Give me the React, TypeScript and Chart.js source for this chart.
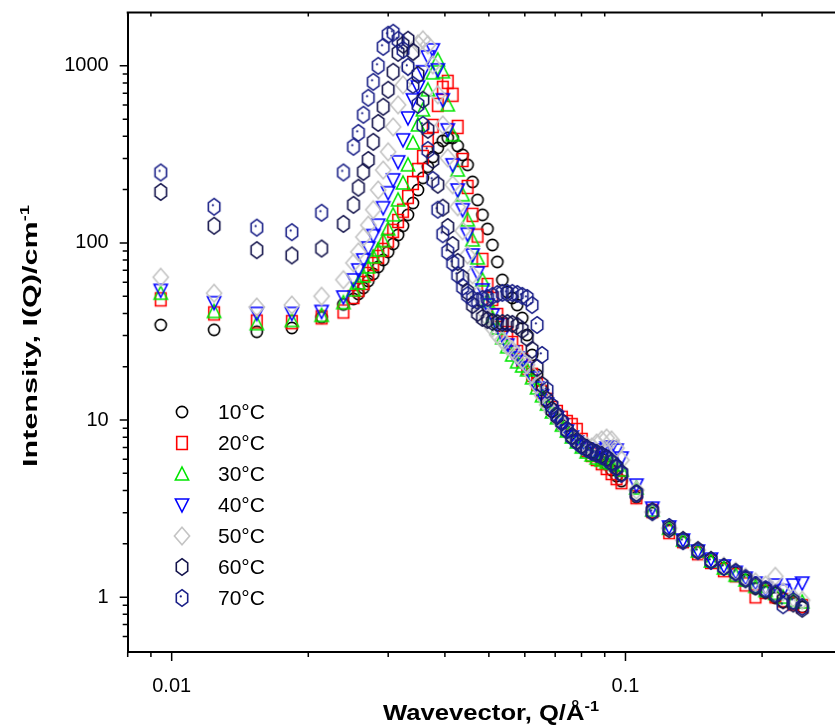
import React, { useEffect, useRef } from 'react';
import { Chart, registerables } from 'chart.js';

Chart.register(...registerables);

// ---------------- data ----------------
const Q = [
  0.00946, 0.0124, 0.0154, 0.0184, 0.0214, 0.0239,
  0.02515, 0.02579, 0.02645, 0.02712, 0.02781, 0.02852, 0.02925, 0.02999, 0.03076, 0.03154,
  0.03235, 0.03317, 0.03402, 0.03489, 0.03578, 0.03669, 0.03762, 0.03858, 0.03957, 0.04058,
  0.04161, 0.04267, 0.04376, 0.04488, 0.04602, 0.0472, 0.0484, 0.04964, 0.0509, 0.0522,
  0.05353, 0.0549, 0.0563, 0.05774, 0.05921, 0.06072, 0.06227, 0.06386, 0.06549, 0.06716,
  0.06887, 0.07063, 0.07243, 0.07428, 0.07617, 0.07812, 0.08011, 0.08215, 0.08425, 0.0864,
  0.0886, 0.09086, 0.09318, 0.09555, 0.09799,
  0.1057, 0.1146, 0.1248, 0.1339, 0.1444, 0.1543, 0.1647, 0.1749, 0.1839, 0.1934,
  0.2035, 0.2139, 0.2225, 0.2343, 0.2452,
];

const I_10C = [
  34.4, 32.3, 31.5, 33.1, 38.0, 45.0,
  48.3, 51.5, 55.7, 61.0, 66.8, 73.2, 80.2, 89.0, 98.7, 111,
  125, 144, 168, 199, 233, 269, 306, 344, 377, 392,
  392, 353, 314, 276, 221, 175, 144, 120, 97.4, 78.1,
  61.8, 52.9, 48.9, 44.6, 37.7, 30.2, 23.3, 18.0, 14.8, 12.6,
  11.1, 10.3, 9.36, 8.55, 7.92, 7.42, 7.04, 6.77, 6.51, 6.26,
  6.02, 5.64, 5.22, 4.83, 4.52,
  3.67, 2.98, 2.39, 2.04, 1.80, 1.58, 1.46, 1.37, 1.25, 1.12,
  1.07, 0.99, 0.94, 0.92, 0.88,
];

const I_20C = [
  48.0, 40.0, 36.0, 35.7, 38.0, 41.0,
  49.5, 54.3, 59.4, 66.8, 76.1, 83.4, 91.3, 103, 117, 133,
  152, 182, 218, 258, 306, 382, 458, 602, 751, 812,
  686, 452, 294, 207, 144, 110, 80.2, 57.9, 48.3, 39.2,
  34.4, 31.0, 27.2, 24.2, 21.8, 19.7, 18.0, 16.0, 14.4, 13.0,
  11.7, 11.1, 10.3, 9.74, 9.36, 8.78, 7.72, 6.77, 6.35, 6.02,
  5.71, 5.36, 5.02, 4.70, 4.46,
  3.67, 3.06, 2.33, 2.07, 1.77, 1.58, 1.42, 1.33, 1.18, 1.01,
  1.07, 1.01, 0.96, 0.92, 0.89,
];

const I_30C = [
  52.0, 41.0, 35.0, 36.5, 39.0, 46.0,
  54.3, 59.4, 65.1, 73.2, 83.4, 91.3, 103, 120, 144, 175,
  218, 276, 367, 464, 564, 732, 913, 1081, 925, 602,
  408, 258, 187, 135, 104, 82.3, 61.8, 47.0, 37.7, 33.1,
  29.1, 25.9, 23.3, 21.3, 20.2, 19.2, 17.3, 15.2, 13.7, 12.3,
  11.1, 10.3, 9.36, 8.67, 8.02, 7.52, 7.04, 6.60, 6.35, 6.10,
  5.94, 5.78, 5.71, 5.57, 5.22,
  4.13, 3.10, 2.45, 2.10, 1.82, 1.60, 1.46, 1.33, 1.25, 1.15,
  1.09, 1.05, 1.00, 0.96, 0.94,
];

const I_40C = [
  54.0, 46.0, 40.0, 40.0, 41.0, 49.5,
  61.8, 70.4, 80.2, 93.7, 110, 126, 158, 192, 227, 287,
  382, 508, 643, 761, 925, 1124, 1231, 949, 643, 435,
  276, 199, 154, 112, 85.5, 67.7, 54.3, 44.6, 39.2, 34.4,
  30.2, 26.5, 24.2, 22.4, 21.3, 19.7, 17.3, 15.2, 13.7, 12.3,
  11.1, 10.3, 9.36, 8.67, 8.02, 7.52, 7.13, 6.86, 6.68, 6.60,
  6.77, 6.95, 7.04, 6.77, 6.10,
  4.29, 3.18, 2.49, 2.10, 1.82, 1.64, 1.50, 1.38, 1.28, 1.20,
  1.12, 1.17, 1.09, 1.17, 1.20,
];

const I_50C = [
  64.0, 52.0, 43.5, 44.6, 50.0, 62.0,
  77.1, 89.0, 108, 126, 154, 199, 258, 327, 452, 602,
  781, 987, 1184, 1331, 1403, 1314, 1013, 686, 464, 302,
  213, 160, 117, 85.5, 66.0, 50.8, 41.8, 37.7, 33.1, 30.2,
  28.3, 26.2, 24.9, 23.3, 21.8, 20.5, 18.0, 15.8, 13.8, 12.2,
  11.1, 10.3, 9.49, 8.78, 8.23, 7.72, 7.32, 7.13, 7.04, 7.42,
  7.72, 7.92, 7.72, 6.95, 5.94,
  4.02, 3.02, 2.45, 2.10, 1.84, 1.62, 1.50, 1.40, 1.30, 1.22,
  1.17, 1.31, 1.07, 0.99, 0.96,
];

const I_60C = [
  194, 125, 91.0, 85.0, 93.0, 128,
  164, 205, 252, 294, 372, 476, 587, 732, 925, 1184,
  1314, 1403, 1200, 890, 643, 435, 294, 213, 158, 123,
  97.4, 78.1, 63.4, 52.9, 44.6, 40.2, 37.7, 36.7, 35.8, 35.3,
  35.3, 35.3, 34.9, 34.0, 32.3, 29.1, 24.9, 19.7, 15.8, 13.0,
  11.4, 10.5, 9.74, 8.78, 8.12, 7.62, 7.22, 6.95, 6.68, 6.51,
  6.35, 6.10, 5.78, 5.43, 5.02,
  3.87, 3.06, 2.42, 2.10, 1.84, 1.62, 1.48, 1.38, 1.26, 1.15,
  1.09, 1.03, 0.96, 0.92, 0.86,
];

const I_70C = [
  250, 160, 122, 115, 148, 250,
  349, 418, 529, 660, 812, 1000, 1280, 1497, 1537, 1403,
  1231, 987, 781, 602, 464, 335, 227, 154, 112, 89.0,
  77.1, 66.0, 56.4, 50.8, 48.3, 47.0, 48.3, 48.9, 50.2, 51.5,
  52.2, 52.2, 52.2, 51.5, 50.2, 48.9, 44.6, 34.4, 23.3, 14.8,
  12.0, 10.7, 9.74, 8.78, 8.02, 7.52, 7.13, 6.86, 6.60, 6.43,
  6.26, 6.02, 5.71, 5.36, 4.96,
  3.82, 3.02, 2.49, 2.07, 1.82, 1.60, 1.48, 1.38, 1.28, 1.17,
  1.11, 1.05, 0.90, 0.95, 0.88,
];

const SERIES_LABELS = ['10°C', '20°C', '30°C', '40°C', '50°C', '60°C', '70°C'];
const SERIES_VALUES = [I_10C, I_20C, I_30C, I_40C, I_50C, I_60C, I_70C];

const X_LABEL_TICKS = [0.01, 0.1];
const X_MINOR_TICKS = [0.008, 0.009, 0.02, 0.03, 0.04, 0.05, 0.06, 0.07, 0.08, 0.09, 0.2, 0.3];
const Y_LABEL_TICKS = [1, 10, 100, 1000];
const Y_MINOR_TICKS = [
  0.6, 0.7, 0.8, 0.9, 2, 3, 4, 5, 6, 7, 8, 9, 20, 30, 40, 50, 60, 70, 80, 90,
  200, 300, 400, 500, 600, 700, 800, 900,
];

const X_TITLE = 'Wavevector, Q/Å';
const Y_TITLE = 'Intensity, I(Q)/cm';
const TITLE_SUP = '-1';

// ---------------- styles ----------------
const FONT = '"Liberation Sans", Arial, Helvetica, sans-serif';
const MARKERS = [
  { kind: 'circle', color: '#000000' },
  { kind: 'square', color: '#ff0000' },
  { kind: 'triUp', color: '#00e600' },
  { kind: 'triDown', color: '#0000ff' },
  { kind: 'diamond', color: '#c4c4c4' },
  { kind: 'hex', color: '#14144c' },
  { kind: 'hexDot', color: '#1a2088' },
];

function makeMarker(kind: string, color: string): HTMLCanvasElement {
  const c = document.createElement('canvas');
  const W = 20;
  const H = 22;
  c.width = W;
  c.height = H;
  const g = c.getContext('2d') as CanvasRenderingContext2D;
  g.translate(W / 2, H / 2);
  g.strokeStyle = color;
  g.fillStyle = color;
  g.lineWidth = 1.6;
  g.beginPath();
  if (kind === 'circle') {
    g.arc(0, 0, 5.6, 0, Math.PI * 2);
  } else if (kind === 'square') {
    g.rect(-5.3, -6.5, 10.6, 13);
  } else if (kind === 'triUp') {
    g.moveTo(0, -7);
    g.lineTo(6.6, 6);
    g.lineTo(-6.6, 6);
    g.closePath();
  } else if (kind === 'triDown') {
    g.moveTo(0, 7);
    g.lineTo(6.6, -6);
    g.lineTo(-6.6, -6);
    g.closePath();
  } else if (kind === 'diamond') {
    g.moveTo(0, -8.8);
    g.lineTo(7.6, 0);
    g.lineTo(0, 8.8);
    g.lineTo(-7.6, 0);
    g.closePath();
  } else {
    const hw = 5.7;
    const hh = 8.3;
    g.moveTo(0, -hh);
    g.lineTo(hw, -hh / 2);
    g.lineTo(hw, hh / 2);
    g.lineTo(0, hh);
    g.lineTo(-hw, hh / 2);
    g.lineTo(-hw, -hh / 2);
    g.closePath();
  }
  g.stroke();
  if (kind === 'hexDot') {
    g.beginPath();
    g.arc(-1.2, -1.6, 1.1, 0, Math.PI * 2);
    g.fill();
  }
  return c;
}

function drawTitle(
  ctx: CanvasRenderingContext2D,
  cx: number,
  cy: number,
  rotate: boolean,
  main: string,
  sup: string,
  size: number,
  targetLen: number,
) {
  ctx.save();
  ctx.fillStyle = '#000';
  ctx.textBaseline = 'alphabetic';
  ctx.textAlign = 'left';
  const mainFont = `bold ${size}px ${FONT}`;
  const supFont = `bold ${Math.round(size * 0.62)}px ${FONT}`;
  ctx.font = mainFont;
  const w1 = ctx.measureText(main).width;
  ctx.font = supFont;
  const w2 = ctx.measureText(sup).width;
  const total = w1 + w2;
  const s = targetLen / total;
  ctx.translate(cx, cy);
  if (rotate) ctx.rotate(-Math.PI / 2);
  ctx.scale(s, 1);
  const x0 = -total / 2;
  ctx.font = mainFont;
  ctx.fillText(main, x0, 0);
  ctx.font = supFont;
  ctx.fillText(sup, x0 + w1, -size * 0.42);
  ctx.restore();
}

const decorPlugin = {
  id: 'decor',
  afterDraw(chart: any) {
    const { ctx, chartArea: a, scales } = chart;
    const xs = scales.x;
    const ys = scales.y;
    ctx.save();
    ctx.strokeStyle = '#000';
    // top frame line
    ctx.lineWidth = 2;
    ctx.beginPath();
    ctx.moveTo(a.left - 1, a.top);
    ctx.lineTo(a.right, a.top);
    ctx.stroke();
    // tick marks
    ctx.lineWidth = 1.5;
    ctx.beginPath();
    for (const v of X_LABEL_TICKS) {
      const p = xs.getPixelForValue(v);
      ctx.moveTo(p, a.bottom);
      ctx.lineTo(p, a.bottom + 9);
    }
    for (const v of X_MINOR_TICKS) {
      const p = xs.getPixelForValue(v);
      ctx.moveTo(p, a.bottom);
      ctx.lineTo(p, a.bottom + 5);
      ctx.moveTo(p, a.top);
      ctx.lineTo(p, a.top + 4);
    }
    for (const v of Y_LABEL_TICKS) {
      const p = ys.getPixelForValue(v);
      ctx.moveTo(a.left - 8, p);
      ctx.lineTo(a.left, p);
    }
    for (const v of Y_MINOR_TICKS) {
      const p = ys.getPixelForValue(v);
      ctx.moveTo(a.left - 5, p);
      ctx.lineTo(a.left, p);
    }
    ctx.stroke();

    // legend
    ctx.fillStyle = '#000';
    ctx.font = `21px ${FONT}`;
    ctx.textAlign = 'left';
    ctx.textBaseline = 'middle';
    chart.data.datasets.forEach((ds: any, i: number) => {
      const y = 412 + i * 31;
      const img = ds.pointStyle as HTMLCanvasElement;
      ctx.drawImage(img, 182 - img.width / 2, y - img.height / 2);
      ctx.fillText(ds.label, 218, y + 1);
    });
    ctx.restore();

    // axis titles
    drawTitle(ctx, 491, 720, false, X_TITLE, TITLE_SUP, 22, 216);
    drawTitle(ctx, 37, 336, true, Y_TITLE, TITLE_SUP, 20, 262);
  },
};

export default function App() {
  const ref = useRef<HTMLCanvasElement | null>(null);

  useEffect(() => {
    const canvas = ref.current;
    if (!canvas) return;
    const datasets = SERIES_LABELS.map((label, i) => ({
      label,
      data: Q.map((q, k) => ({ x: q, y: SERIES_VALUES[i][k] })),
      pointStyle: makeMarker(MARKERS[i].kind, MARKERS[i].color) as any,
      pointRadius: 7,
      showLine: false,
      order: SERIES_LABELS.length - 1 - i,
    }));
    const tickFont = { family: FONT, size: 20 };
    const chart = new Chart(canvas, {
      type: 'scatter',
      data: { datasets },
      options: {
        animation: false,
        responsive: false,
        devicePixelRatio: 1,
        events: [],
        layout: { padding: { left: 0, right: 3, top: 12.5, bottom: 0 } },
        plugins: {
          legend: { display: false },
          tooltip: { enabled: false },
        },
        scales: {
          x: {
            type: 'logarithmic',
            min: 0.008,
            max: 0.3,
            bounds: 'data',
            grid: { display: false, drawTicks: false },
            border: { display: true, color: '#000', width: 2 },
            ticks: {
              autoSkip: false,
              maxRotation: 0,
              padding: 22,
              color: '#000',
              font: tickFont,
              callback: (v: any) => String(v),
            },
            afterBuildTicks: (s: any) => {
              s.ticks = X_LABEL_TICKS.map((v) => ({ value: v }));
            },
            afterFit: (s: any) => {
              s.height = 75;
              s.paddingLeft = 0;
              s.paddingRight = 0;
              s.paddingTop = 0;
              s.paddingBottom = 0;
            },
          },
          y: {
            type: 'logarithmic',
            min: 0.49,
            max: 2000,
            bounds: 'data',
            grid: { display: false, drawTicks: false },
            border: { display: true, color: '#000', width: 2 },
            ticks: {
              autoSkip: false,
              padding: 19,
              color: '#000',
              font: tickFont,
              callback: (v: any) => String(v),
            },
            afterBuildTicks: (s: any) => {
              s.ticks = Y_LABEL_TICKS.map((v) => ({ value: v }));
            },
            afterFit: (s: any) => {
              s.width = 127.7;
              s.paddingLeft = 0;
              s.paddingRight = 0;
              s.paddingTop = 0;
              s.paddingBottom = 0;
            },
          },
        },
      } as any,
      plugins: [decorPlugin],
    });
    return () => chart.destroy();
  }, []);

  return (
    <div
      style={{
        position: 'fixed',
        left: 0,
        top: 0,
        width: 835,
        height: 727,
        overflow: 'hidden',
        background: '#fff',
      }}
    >
      <canvas ref={ref} width={850} height={727} style={{ display: 'block', width: '850px', height: '727px' }} />
    </div>
  );
}
